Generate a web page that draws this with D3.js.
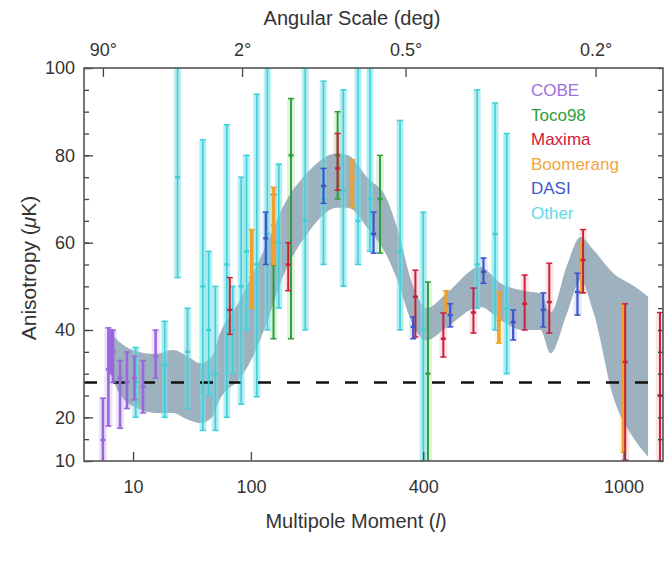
<!DOCTYPE html>
<html>
<head>
<meta charset="utf-8">
<script src="https://cdn.jsdelivr.net/npm/d3@7"></script>
<style>
  body { margin: 0; background: #fff; }
  text { font-family: "Liberation Sans", Arial, sans-serif; }
</style>
</head>
<body>
<div id="chart"></div>
<script>
// data: [l, value, low, high] in uK
var cobe = [[2, 14.8, 5, 24.4], [3, 31, 18, 40.5], [3.5, 36, 30, 40], [4, 35, 28, 40], [5.8, 29, 17.5, 33],
  [7.9, 28, 22, 35], [10.5, 29, 24, 34], [14, 27, 21, 33], [20, 34, 29, 40]];
var toco = [[128, 55, 38, 71], [152, 80, 38, 93], [226, 80, 70, 90], [306, 70, 57.6, 80], [411, 30, 5, 51]];
var maxima = [[77, 44.6, 39, 52], [148, 55, 49, 60], [226, 77, 72, 85], [382, 47.6, 38.4, 53.7],
  [448, 38, 33.8, 43.9], [525, 44, 39.3, 49.6], [670, 46, 40, 52.6], [746, 46.4, 39.3, 55.3],
  [857, 56, 48.5, 63], [1006, 32.7, 10.2, 46], [1138, 25, 5, 44]];
var boomerang = [[101, 52, 45, 63], [128, 64, 55, 72.7], [252, 75, 68, 79], [455, 46, 44, 49],
  [595, 42.3, 37, 48.7], [853, 55.6, 48.5, 60], [1000, 32.7, 12, 46]];
var dasi = [[118, 61, 55, 67], [202, 73, 69, 77], [293, 62, 57.6, 67], [377, 40.7, 38, 43],
  [465, 43.4, 40.7, 46], [552, 53.3, 50.7, 56.5], [636, 41.8, 37.7, 44.6], [727, 44.6, 40.7, 48.5],
  [838, 48.7, 43.4, 53]];
var other = [[11, 28, 20, 36], [25, 32, 20, 42], [33, 75, 52, 100], [40, 35, 22, 45], [52, 50, 17, 83.6],
  [57, 40, 25, 58], [63, 30, 17, 50], [74, 55, 20, 87], [80, 40, 30, 50], [89, 50, 23, 75],
  [95, 58, 40, 80], [107, 55, 24.7, 94], [120, 62, 40, 100], [135, 60, 45, 78], [173, 65, 40, 100],
  [202, 70, 55, 97], [236, 72, 50, 95], [263, 65, 55, 100], [286, 70, 58, 100], [348, 58, 40, 88],
  [400, 40, 10, 67], [535, 55, 45, 95], [584, 62, 40, 92], [617, 45, 30, 85]];

// grey band: l, lower, upper
var bandL = [3, 6, 12, 20, 30, 40, 50, 60, 67, 88, 100, 120, 140, 176, 225, 245, 280, 320, 340, 377,
  408, 457, 543, 599, 666, 718, 750, 804, 848, 893, 963, 1040, 1092];
var bandLow = [31, 25, 22, 21, 21, 19.5, 18.7, 20, 24, 29, 33, 42, 52, 62, 68, 68, 63.5, 57, 52, 41,
  37.7, 40.7, 45.3, 42.3, 40, 40, 34.7, 44, 51.4, 44, 24.6, 15, 11];
var bandHigh = [40, 37, 35, 34.5, 35.4, 34, 32.4, 34, 39, 47, 52, 60, 68, 76, 80.5, 80, 75, 70, 64, 50,
  45, 48.5, 54.4, 50.7, 49, 48.4, 44, 55, 61.3, 58.3, 53, 50, 47.6];

var flatLevel = 28;
var yTicks = [10, 20, 40, 60, 80, 100];
var xTicks = [10, 100, 400, 1000];
var angleL = [2, 90, 360, 900];
var angleLabels = ["90°", "2°", "0.5°", "0.2°"];
var seriesNames = ["COBE", "Toco98", "Maxima", "Boomerang", "DASI", "Other"];

var colors = ["#9a66dc", "#2e9e3a", "#c8203a", "#f0a030", "#3a55cc", "#3fcfd9"];
var lightColors = ["#d9c8f5", "#bfe8bf", "#f7c8d0", "#fde3b0", "#c8d2f5", "#b5f0f2"];
var legendColors = ["#9d70de", "#2f9e3a", "#d0203a", "#f2a640", "#4058c8", "#62d8e6"];
var barWidths = [2.6, 2, 2, 3.6, 2.2, 1.6];

var svgWidth = 665, svgHeight = 570;
var margin = {left: 84, right: 663, top: 68, bottom: 461};

var svg = d3.select("#chart").append("svg")
  .attr("width", svgWidth)
  .attr("height", svgHeight);

var x = d3.scaleSqrt().domain([0.1, 1150]).range([margin.left, margin.right]);
var y = d3.scaleLinear().domain([10, 100]).range([margin.bottom, margin.top]);

svg.append("clipPath").attr("id", "clip")
  .append("rect").attr("x", margin.left).attr("y", margin.top)
  .attr("width", margin.right - margin.left).attr("height", margin.bottom - margin.top);
var plot = svg.append("g").attr("clip-path", "url(#clip)");

var allSeries = [cobe, toco, maxima, boomerang, dasi, other];

// light strips behind
allSeries.forEach(function(s, i) {
  plot.selectAll(null).data(s).enter().append("rect")
    .attr("x", d => x(d[0]) - 4)
    .attr("width", 8)
    .attr("y", d => y(d[3]))
    .attr("height", d => y(d[2]) - y(d[3]))
    .attr("fill", lightColors[i])
    .attr("opacity", 0.5);
});

// band
var band = bandL.map((l, i) => [l, bandLow[i], bandHigh[i]]);
plot.append("path")
  .datum(band)
  .attr("d", d3.area().x(d => x(d[0])).y0(d => y(d[1])).y1(d => y(d[2])).curve(d3.curveMonotoneX))
  .attr("fill", "#93a8b8")
  .attr("opacity", 0.9);

// other strips over band
plot.selectAll(null).data(other).enter().append("rect")
  .attr("x", d => x(d[0]) - 3)
  .attr("width", 6)
  .attr("y", d => y(d[3]))
  .attr("height", d => y(d[2]) - y(d[3]))
  .attr("fill", "#7fe0e6")
  .attr("opacity", 0.45);

// dashed line
plot.append("line")
  .attr("x1", margin.left).attr("x2", margin.right)
  .attr("y1", y(flatLevel)).attr("y2", y(flatLevel))
  .attr("stroke", "#111").attr("stroke-width", 2.5)
  .attr("stroke-dasharray", "13,16");

// error bars
var drawOrder = [5, 0, 1, 3, 2, 4];
drawOrder.forEach(function(i) {
  var s = allSeries[i];
  var g = plot.append("g").attr("stroke", colors[i]);
  g.selectAll(null).data(s).enter().append("line")
    .attr("x1", d => x(d[0])).attr("x2", d => x(d[0]))
    .attr("y1", d => y(d[2])).attr("y2", d => y(d[3]))
    .attr("stroke-width", barWidths[i]);
  [2, 3].forEach(function(k) {
    g.selectAll(null).data(s).enter().append("line")
      .attr("x1", d => x(d[0]) - 3).attr("x2", d => x(d[0]) + 3)
      .attr("y1", d => y(d[k])).attr("y2", d => y(d[k]))
      .attr("stroke-width", 1.5);
  });
  g.selectAll(null).data(s).enter().append("line")
    .attr("x1", d => x(d[0]) - 2.5).attr("x2", d => x(d[0]) + 2.5)
    .attr("y1", d => y(d[1])).attr("y2", d => y(d[1]))
    .attr("stroke-width", 2.5);
});

// frame and axes
var minor = d3.range(10, 101, 5);
svg.append("g").attr("transform", `translate(${margin.left},0)`)
  .call(d3.axisLeft(y).tickValues(yTicks).tickSizeInner(-9).tickSizeOuter(0).tickPadding(9));
svg.append("g").attr("transform", `translate(${margin.left},0)`)
  .call(d3.axisLeft(y).tickValues(minor).tickSizeInner(-5).tickSizeOuter(0).tickFormat(""));
svg.append("g").attr("transform", `translate(${margin.right},0)`)
  .call(d3.axisRight(y).tickValues(minor).tickSizeInner(-5).tickSizeOuter(0).tickFormat(""));
svg.append("g").attr("transform", `translate(0,${margin.bottom})`)
  .call(d3.axisBottom(x).tickValues(xTicks).tickFormat(d3.format("d")).tickSizeInner(-9).tickSizeOuter(0).tickPadding(19));
svg.append("g").attr("transform", `translate(0,${margin.top})`)
  .call(d3.axisTop(x).tickValues(angleL).tickFormat((d, i) => angleLabels[i]).tickSizeInner(-9).tickSizeOuter(0).tickPadding(12));

svg.selectAll(".domain").remove();
svg.selectAll(".tick line").attr("stroke", "#444").attr("stroke-width", 1.3);
svg.selectAll(".tick text").attr("font-size", 18).attr("fill", "#333")
  .style("font-family", "Liberation Sans, Arial, sans-serif");

svg.append("rect")
  .attr("x", margin.left).attr("y", margin.top)
  .attr("width", margin.right - margin.left).attr("height", margin.bottom - margin.top)
  .attr("fill", "none").attr("stroke", "#555").attr("stroke-width", 1.6);

// titles
svg.append("text").attr("x", 352).attr("y", 25).attr("text-anchor", "middle")
  .attr("font-size", 20).attr("fill", "#333").text("Angular Scale (deg)");
var xt = svg.append("text").attr("x", 356).attr("y", 528).attr("text-anchor", "middle")
  .attr("font-size", 20).attr("fill", "#333");
xt.append("tspan").text("Multipole Moment (");
xt.append("tspan").attr("font-style", "italic").text("l");
xt.append("tspan").text(")");
var yt = svg.append("text").attr("transform", "translate(36,268) rotate(-90)").attr("text-anchor", "middle")
  .attr("font-size", 21).attr("fill", "#333");
yt.append("tspan").text("Anisotropy (");
yt.append("tspan").attr("font-style", "italic").text("μ");
yt.append("tspan").text("K)");

// legend
svg.selectAll(".legend").data(seriesNames).enter().append("text")
  .attr("x", 531)
  .attr("y", (d, i) => 96 + i * 24.5)
  .attr("font-size", 17)
  .attr("fill", (d, i) => legendColors[i])
  .text(d => d);
</script>
</body>
</html>
